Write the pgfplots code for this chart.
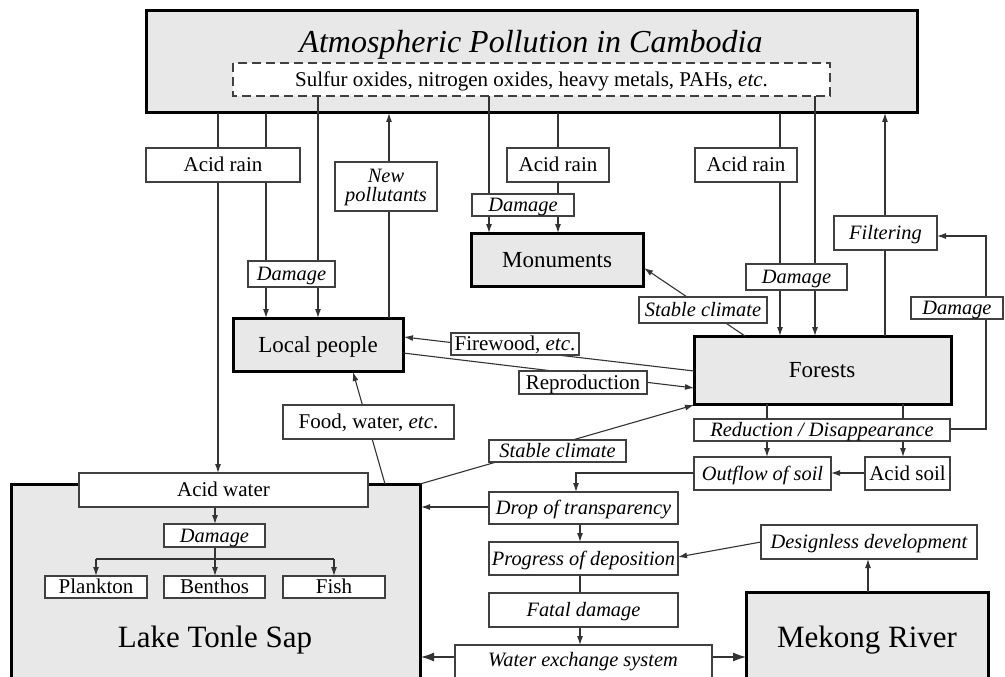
\documentclass[border=0pt]{standalone}
\usepackage{pgfplots}
\pgfplotsset{compat=1.18}
\usetikzlibrary{arrows.meta}
\usepackage{fontspec}
\setmainfont{Liberation Serif}
\definecolor{boxgray}{RGB}{232,232,232}
\newcommand{\iT}{\fontsize{20.4}{25}\selectfont\itshape}
\tikzset{
  bigbox/.style={draw=black, line width=3pt, fill=boxgray},
  smallbox/.style={draw=black!75, line width=1.1pt, fill=white},
  lbl/.style={inner sep=0pt, text height=13.9pt, text depth=0pt, font=\fontsize{21}{25}\selectfont},
  blbl/.style={inner sep=0pt, text height=15.2pt, text depth=0pt, font=\fontsize{23}{27}\selectfont},
  hlbl/.style={inner sep=0pt, text height=20.5pt, text depth=0pt, font=\fontsize{31}{36}\selectfont},
  conn/.style={draw=black!80, line width=1.1pt},
  arr/.style={conn, -{Latex[length=9pt,width=6pt]}},
  bigarr/.style={conn, -{Latex[length=13pt,width=9pt]}},
}
\newcommand{\wbox}[6][]{%
  \draw[smallbox,#1] (axis cs:#2,#3) rectangle (axis cs:#4,#5);
  \node[lbl] at (axis cs:{(#2+#4)/2},{(#3+#5)/2}) {#6};}
\newcommand{\gbox}[5]{%
  \draw[bigbox] (axis cs:#1,#2) rectangle (axis cs:#3,#4);}
\begin{document}
\begin{tikzpicture}
\useasboundingbox (0,0) rectangle (1005pt,677pt);
\clip (0,0) rectangle (1005pt,677pt);
\begin{axis}[at={(0,0)}, anchor=south west, scale only axis,
  width=1005pt, height=677pt, xmin=0, xmax=1005, ymin=0, ymax=677,
  y dir=reverse, hide axis, clip=true]
% big gray boxes
\gbox{146}{11}{917}{113}{}
\gbox{233}{318}{403}{371}{}
\gbox{471}{233}{643}{286}{}
\gbox{694}{336}{951}{404}{}
\gbox{11}{484}{420}{700}{}
\gbox{746}{592}{988}{700}{}
% connectors
\draw[arr] (axis cs:218,113) -- (axis cs:218,473);
\draw[arr] (axis cs:266,113) -- (axis cs:266,318);
\draw[arr] (axis cs:318,96) -- (axis cs:318,318);
\draw[arr] (axis cs:389,318) -- (axis cs:389,113);
\draw[arr] (axis cs:558,113) -- (axis cs:558,233);
\draw[arr] (axis cs:489,96) -- (axis cs:489,233);
\draw[arr] (axis cs:780,113) -- (axis cs:780,336);
\draw[arr] (axis cs:815,96) -- (axis cs:815,336);
\draw[arr] (axis cs:885,336) -- (axis cs:885,113);
\draw[arr] (axis cs:745,336) -- (axis cs:644,268);
\draw[arr] (axis cs:694,371) -- (axis cs:404,337);
\draw[arr] (axis cs:403,353) -- (axis cs:694,388);
\draw[arr] (axis cs:420,484) -- (axis cs:694,405);
\draw[arr] (axis cs:385,484) -- (axis cs:353,372);
\draw[arr] (axis cs:767,404) -- (axis cs:767,457);
\draw[arr] (axis cs:903,404) -- (axis cs:903,457);
\draw[arr] (axis cs:950,429) -- (axis cs:986,429) -- (axis cs:986,236) -- (axis cs:937,236);
\draw[arr] (axis cs:865,473) -- (axis cs:831,473);
\draw[arr] (axis cs:694,473) -- (axis cs:576,473) -- (axis cs:576,492);
\draw[arr] (axis cs:489,507) -- (axis cs:421,507);
\draw[arr] (axis cs:580,524) -- (axis cs:580,542);
\draw[conn] (axis cs:580,575) -- (axis cs:580,593);
\draw[arr] (axis cs:580,627) -- (axis cs:580,645);
\draw[bigarr] (axis cs:455,657) -- (axis cs:421,657);
\draw[bigarr] (axis cs:712,657) -- (axis cs:746,657);
\draw[arr] (axis cs:868,592) -- (axis cs:868,559);
\draw[arr] (axis cs:761,542) -- (axis cs:678,557);
\draw[arr] (axis cs:215,507) -- (axis cs:215,524);
\draw[conn] (axis cs:215,547) -- (axis cs:215,559);
\draw[conn] (axis cs:96,559) -- (axis cs:334,559);
\draw[arr] (axis cs:96,559) -- (axis cs:96,576);
\draw[arr] (axis cs:215,559) -- (axis cs:215,576);
\draw[arr] (axis cs:334,559) -- (axis cs:334,576);
% small boxes
\wbox[dashed, dash pattern=on 9pt off 5pt]{233}{63}{830}{96}{Sulfur oxides, nitrogen oxides, heavy metals, PAHs, \textit{etc}.}
\wbox{146}{148}{300}{182}{Acid rain}
\draw[smallbox] (axis cs:335,162) rectangle (axis cs:437,211);
\node[lbl] at (axis cs:386,176) {\iT New};
\node[lbl] at (axis cs:386,195) {\iT pollutants};
\wbox{248}{261}{335}{287}{\iT Damage}
\wbox{507}{148}{609}{182}{Acid rain}
\wbox{472}{194}{574}{216}{\iT Damage}
\wbox{695}{148}{797}{182}{Acid rain}
\wbox{746}{264}{847}{290}{\iT Damage}
\wbox{834}{216}{937}{250}{\iT Filtering}
\wbox{911}{297}{1003}{319}{\iT Damage}
\wbox{639}{297}{767}{323}{\iT Stable climate}
\wbox{451}{333}{579}{355}{Firewood, \textit{etc}.}
\wbox{519}{371}{647}{394}{Reproduction}
\wbox{489}{440}{626}{462}{\iT Stable climate}
\wbox{283}{405}{454}{439}{Food, water, \textit{etc}.}
\wbox{694}{419}{950}{441}{\iT Reduction / Disappearance}
\wbox{694}{457}{831}{490}{\iT Outflow of soil}
\wbox{865}{457}{950}{490}{Acid soil}
\wbox{489}{492}{678}{524}{\iT Drop of transparency}
\wbox{489}{542}{678}{575}{\iT Progress of deposition}
\wbox{489}{593}{678}{627}{\iT Fatal damage}
\draw[smallbox] (axis cs:455,645) rectangle (axis cs:712,700);
\node[lbl] at (axis cs:583,660) {\iT Water exchange system};
\wbox{761}{525}{977}{559}{\iT Designless development}
\wbox{79}{473}{368}{507}{Acid water}
\wbox{164}{524}{265}{547}{\iT Damage}
\wbox{45}{576}{147}{598}{Plankton}
\wbox{164}{576}{265}{598}{Benthos}
\wbox{283}{576}{385}{598}{Fish}
% big labels
\node[inner sep=0pt, text height=21pt, text depth=0pt, font=\fontsize{32}{38}\selectfont\itshape] at (axis cs:531,42) {Atmospheric Pollution in Cambodia};
\node[blbl] at (axis cs:318,345) {Local people};
\node[blbl] at (axis cs:557,260) {Monuments};
\node[blbl] at (axis cs:822,370) {Forests};
\node[hlbl] at (axis cs:215,637) {Lake Tonle Sap};
\node[hlbl] at (axis cs:867,637) {Mekong River};
\end{axis}
\end{tikzpicture}
\end{document}
